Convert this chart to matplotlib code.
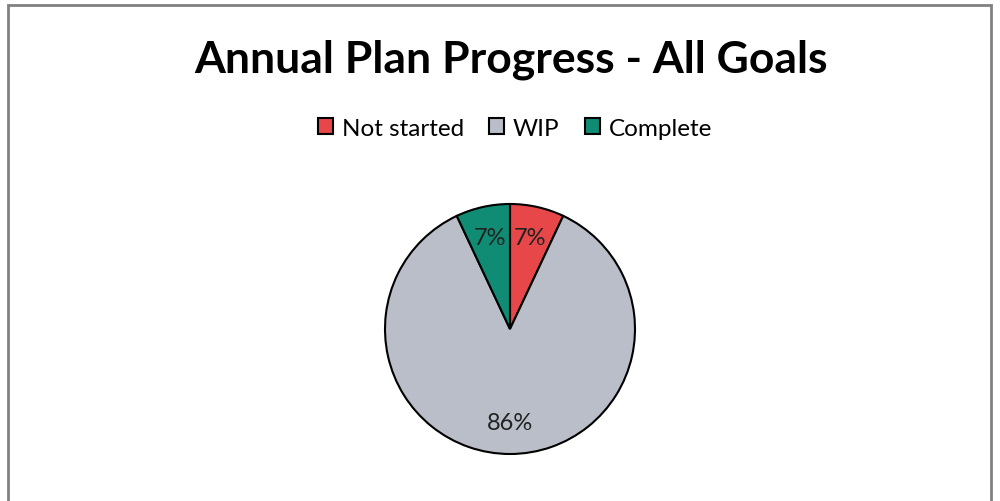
import matplotlib
matplotlib.use("Agg")
import matplotlib.pyplot as plt
from matplotlib.patches import Rectangle

plt.rcParams['font.family'] = ['Lato', 'DejaVu Sans']

categories = ["Not started", "WIP", "Complete"]
shares = [7, 86, 7]
colors = ["#E8474A", "#B9BEC8", "#0F8C73"]
title = "Annual Plan Progress - All Goals"

W, H = 1000, 502
fig = plt.figure(figsize=(W / 100, H / 100), dpi=100)
fig.patch.set_facecolor("white")

# chart frame
fig.patches.append(Rectangle((8 / W, -0.01), (991 - 8) / W, (H - 6) / H + 0.01,
                             transform=fig.transFigure, fill=False,
                             edgecolor="#808080", linewidth=2))

fig.text(511 / W, 1 - 60 / H, title, ha="center", va="center",
         fontsize=32, fontweight="bold", color="black")

# pie placement
cx, cy, r = 510, 330, 125
ax = fig.add_axes([(cx - r) / W, 1 - (cy + r) / H, 2 * r / W, 2 * r / H])
wedges, texts = ax.pie(shares, colors=colors, startangle=90, counterclock=False,
                       labels=[f"{v}%" for v in shares], labeldistance=0.75,
                       wedgeprops=dict(edgecolor="black", linewidth=1.5),
                       textprops=dict(fontsize=17, color="#222222"))
for t in texts:
    t.set_ha("center")
    t.set_va("center")
ax.set_xlim(-1.0, 1.0)
ax.set_ylim(-1.0, 1.0)
ax.set_aspect("equal")
for w in wedges:
    w.set_clip_on(False)

leg = fig.legend(wedges, categories, loc="center", bbox_to_anchor=(515 / W, 1 - 129 / H),
                 ncol=3, frameon=False, fontsize=17.5, handlelength=0.62, handleheight=0.62,
                 handletextpad=0.35, columnspacing=1.05)

fig.savefig("out.png", dpi=100)
